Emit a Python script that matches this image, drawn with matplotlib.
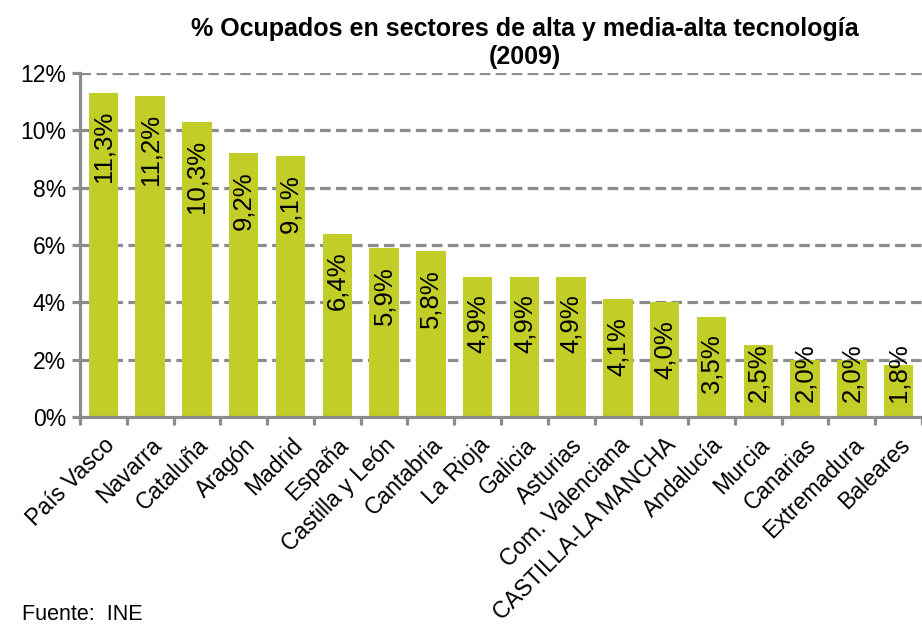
import matplotlib
matplotlib.use("Agg")
import matplotlib.pyplot as plt
import numpy as np

plt.rcParams['font.family'] = ['Liberation Sans', 'DejaVu Sans']

regiones = ['País Vasco', 'Navarra', 'Cataluña', 'Aragón', 'Madrid', 'España',
            'Castilla y León', 'Cantabria', 'La Rioja', 'Galicia', 'Asturias',
            'Com. Valenciana', 'CASTILLA-LA MANCHA', 'Andalucía', 'Murcia',
            'Canarias', 'Extremadura', 'Baleares']
ocupados = [11.3, 11.2, 10.3, 9.2, 9.1, 6.4, 5.9, 5.8, 4.9, 4.9, 4.9,
            4.1, 4.0, 3.5, 2.5, 2.0, 2.0, 1.8]
yticks = [0, 2, 4, 6, 8, 10, 12]

gris = '#8c8c8c'
verde = '#c2ce27'

fig = plt.figure(figsize=(9.22, 6.26), dpi=100)
ax = fig.add_axes([80 / 922, 1 - 417 / 626, 842 / 922, 344 / 626])

x = np.arange(len(regiones))
ax.bar(x, ocupados, width=0.63, color=verde, zorder=2)

# etiquetas dentro de las barras
for xi, v in zip(x, ocupados):
    txt = f'{v:.1f}'.replace('.', ',') + '%'
    if v - 0.63 - 1.9 < 0.52:
        ax.text(xi, 0.52, txt, rotation=90, ha='center', va='bottom',
                fontsize=18.5, zorder=3)
    else:
        ax.text(xi, v - 0.63, txt, rotation=90, ha='center', va='top',
                fontsize=18.5, zorder=3)

ax.set_xlim(-0.5, len(regiones) - 0.5)
ax.set_ylim(0, 12)
ax.set_yticks(yticks)
ax.set_yticklabels([f'{t}%' for t in yticks], fontsize=16.5)

for t in yticks[1:]:
    ax.axhline(t, color=gris, lw=2.3, dashes=(3.3, 1.7), zorder=1)

ax.set_xticks(x)
ax.set_xticklabels(regiones, rotation=45, ha='right', rotation_mode='anchor',
                   fontsize=16.5)
ax.set_xticks(np.arange(-0.5, len(regiones), 1), minor=True)
ax.tick_params(axis='x', which='major', length=0, pad=12)
ax.tick_params(axis='x', which='minor', length=6, width=2.3, color=gris)
ax.tick_params(axis='y', length=6, width=2.3, color=gris, pad=4)

for s in ['top', 'right']:
    ax.spines[s].set_visible(False)
for s in ['left', 'bottom']:
    ax.spines[s].set_color(gris)
    ax.spines[s].set_linewidth(2.3)

fig.text(525 / 922, 1 - 43 / 626,
         '% Ocupados en sectores de alta y media-alta tecnología\n(2009)',
         ha='center', va='center', fontsize=18, fontweight='bold',
         linespacing=1.2)
fig.text(22 / 922, 1 - 614 / 626, 'Fuente:  INE', ha='left', va='center',
         fontsize=15.5)

fig.savefig('out.png', dpi=100)
